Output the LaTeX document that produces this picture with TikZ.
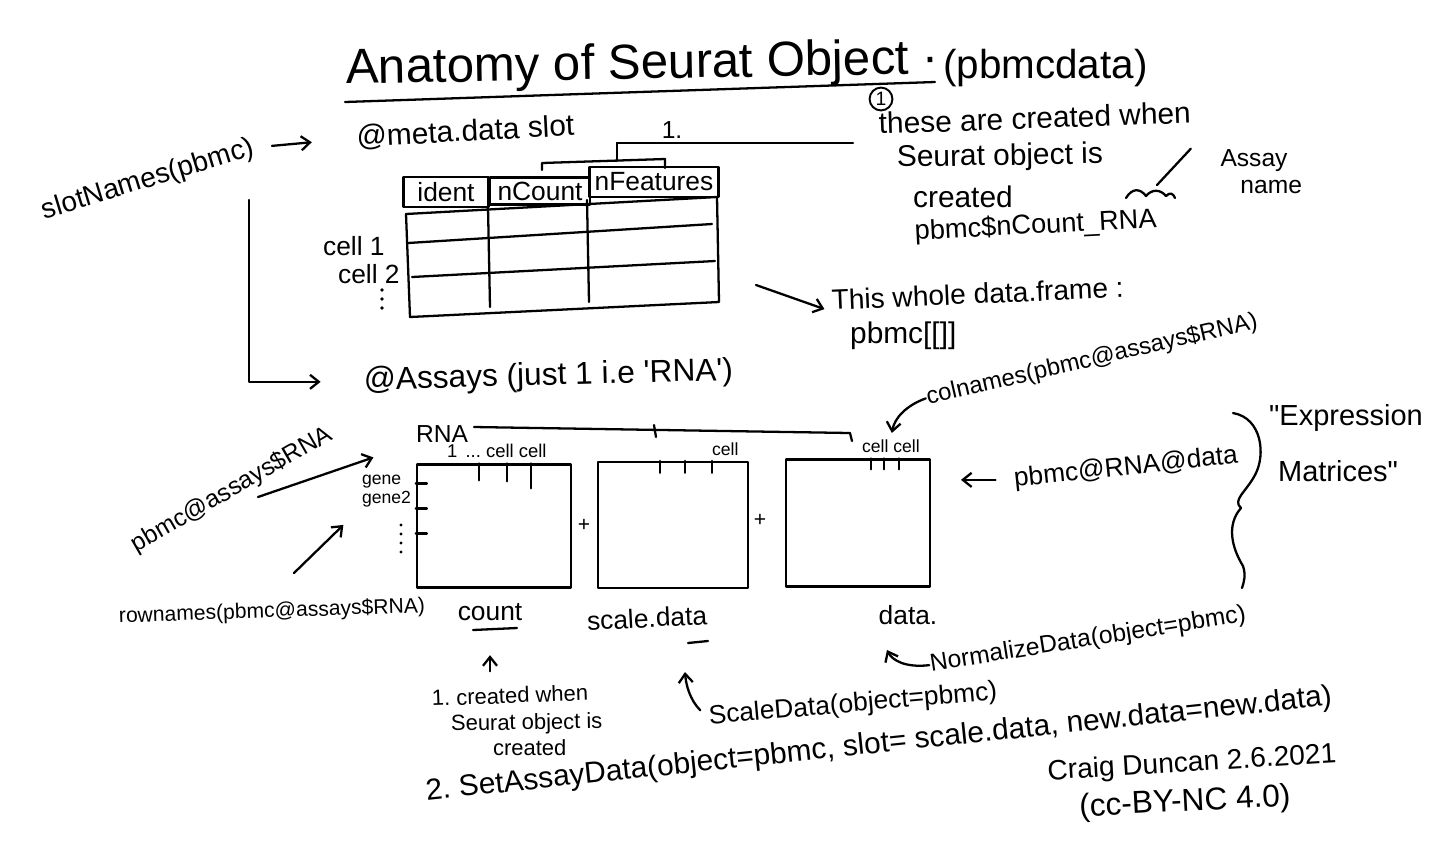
\documentclass[tikz,border=0pt]{standalone}
\usepackage{fontspec}
\setmainfont{Liberation Sans}
\usetikzlibrary{arrows.meta}
\frenchspacing
\newcommand{\handsize}[1]{\fontsize{#1}{#1}\selectfont}
\tikzset{
  txt/.style={inner sep=0pt, font=\handsize{17}},
  txtsm/.style={inner sep=0pt, font=\handsize{14}},
  txtxs/.style={inner sep=0pt, font=\handsize{10}},
  hdrcell/.style={draw, inner sep=0pt, font=\handsize{15}},
  matbox/.style={draw, inner sep=0pt},
  arr/.style={-{Straight Barb[length=5pt,width=8pt]}}
}
\begin{document}
\begin{tikzpicture}[x=0.02cm,y=-0.02cm,line width=1.3pt,line cap=round,line join=round]
                \useasboundingbox (0,0) rectangle (1440,840);
                \fill[white] (0,0) rectangle (1440,840);

                \node[txt, font=\handsize{28}, anchor=base west, rotate=1] (title) at (345,84) {Anatomy of Seurat Object ·};
                \node[txt, font=\handsize{23}, anchor=base west] (pbmcd) at (942,78) {(pbmcdata)};
                \draw (345,102) -- (935,82);

                \node[txt, font=\handsize{16}, rotate=17] (slotn) at (148,180) {slotNames(pbmc)};
                \node[txt, anchor=base west, rotate=3] (meta) at (356,147) {@meta.data slot};
                \node[txt, font=\handsize{18}, anchor=base west, rotate=1.5] (assays) at (363,390) {@Assays (just 1 i.e \textquotesingle RNA\textquotesingle)};
                \coordinate (drop) at (249,200);
                \draw[arr, shorten <=10pt, shorten >=25pt] (slotn.east) -- (meta.west);
                \draw[arr, shorten >=24pt] (drop) |- (assays.west);

                \node[hdrcell, minimum width=1.7cm, minimum height=0.6cm] (ident) at (446,192) {ident};
                \node[hdrcell, minimum width=2cm, minimum height=0.54cm] (ncount) at (540,191) {nCount};
                \node[hdrcell, minimum width=2.58cm, minimum height=0.6cm] (nfeat) at (654,182) {nFeatures};
                \draw (406,214) -- (717,197);
                \draw (406,214) -- (410,317) -- (719,302) -- (717,197);
                \draw (408,243) -- (712,224);
                \draw (412,277) -- (715,261);
                \draw (488,207) -- (490,307);
                \draw (587,200) -- (589,302);
                \node[txt, font=\handsize{15}, anchor=base west] (cell1) at (322,255) {cell 1};
                \node[txt, font=\handsize{15}, anchor=base west] (cell2) at (337,283) {cell 2};
                \foreach \cy in {290,299,308} \fill (382,\cy) circle (1.1pt);

                \draw (542,170) -- (542,163) -- (665,159) -- (665,168);
                \node[txtsm] (one) at (672,130) {1.};
                \coordinate (brtop) at (617,143);
                \draw (617,161) -- (brtop);

                \node[draw, circle, inner sep=0pt, minimum size=13pt, line width=1.1pt, font=\handsize{11}] (circ) at (881,99) {1};
                \node[txt, anchor=base west, rotate=2] (note1) at (878,134) {these are created when};
                \node[txt, anchor=base west, rotate=1] (note2) at (896,167) {Seurat object is};
                \node[txt, anchor=base west] (note3) at (912,207) {created};
                \node[txt, font=\handsize{15.5}, anchor=base west, rotate=3] (note4) at (914,240) {pbmc\$nCount\_RNA};
                \draw[shorten >=14pt] (brtop) -- (brtop -| note1.west);
                \node[txtsm, align=center, font=\fontsize{14}{15.5}\selectfont] (asname) at (1254,172) {Assay\\ \hspace{1.4em}name};
                \draw (1126,198) .. controls (1132,188) and (1140,188) .. (1146,196)
                      .. controls (1152,189) and (1160,189) .. (1166,196)
                      .. controls (1170,192) and (1173,193) .. (1175,198);
                \coordinate (sqtop) at (1157,185);
                \draw (sqtop) -- ([xshift=-8pt]asname.north west);

                \coordinate (tblout) at (756,285);
                \node[txt, font=\handsize{16}, anchor=base west, rotate=2.5] (wholedf) at (831,310) {This whole data.frame :};
                \node[txt, anchor=base west] (bracks) at (849,343) {pbmc[[]]};
                \draw[arr, shorten >=4pt] (tblout) -- (wholedf.south west);

                \node[txtsm, font=\handsize{13.6}, rotate=13] (colnm) at (1092,360) {colnames(pbmc@assays\$RNA)};

                \node[txtsm, anchor=base west] (rna) at (415,442) {RNA};
                \draw (474,427) -- (850,433) -- (852,441);
                \draw (654,425) -- (656,437);

                \node[matbox, minimum width=3.08cm, minimum height=2.46cm] (cnt) at (494,526) {};
                \node[matbox, minimum width=3cm, minimum height=2.52cm] (scl) at (673,525) {};
                \node[matbox, minimum width=2.88cm, minimum height=2.54cm] (dat) at (858,523) {};
                \foreach \tx/\tl in {63/17,91/18,115/25} \draw (cnt.north west) ++(\tx,0) -- ++(0,\tl);
                \foreach \ty in {20,45,70} \draw (cnt.north west) ++(0,\ty) -- ++(11,0);
                \foreach \tx in {63,88,115} \draw (scl.north west) ++(\tx,0) -- ++(0,12);
                \foreach \tx in {86,99,114} \draw (dat.north west) ++(\tx,0) -- ++(0,11);
                \node[txtxs, font=\handsize{10.5}, anchor=base west] (cntcols) at (446,457) {1 \,... cell cell};
                \node[txtxs, anchor=base west] (sclcols) at (711,455) {cell};
                \node[txtxs, anchor=base west] (ccdat) at (861,452) {cell cell};
                \node[txtxs, anchor=base west] (gene1) at (361,484) {gene};
                \node[txtxs, anchor=base west] (gene2) at (361,503) {gene2};
                \foreach \gy in {525,534,543,552} \fill (401,\gy) circle (0.9pt);
                \node[txtxs, font=\handsize{12}] (plus1) at (584,525) {+};
                \node[txtxs, font=\handsize{12}] (plus2) at (760,520) {+};
                \draw[arr, shorten >=3pt] (colnm.west) to[out=200, in=80] (ccdat.north);

                \node[txtsm, rotate=30] (asrna) at (232,490) {pbmc@assays\$RNA};
                \coordinate (asin) at (258,497);
                \draw[arr, shorten >=25pt] (asin) -- (rna.south west);
                \node[txtsm, font=\handsize{12}, rotate=2] (rownm) at (272,612) {rownames(pbmc@assays\$RNA)};
                \coordinate (rnin) at (294,573);
                \draw[arr, shorten >=14pt] (rnin) -- (gene2.south west);

                \node[txtsm, font=\handsize{15}] (count) at (490,612) {count};
                \node[txtsm, font=\handsize{15}, rotate=3] (scldat) at (647,618) {scale.data};
                \node[txtsm, font=\handsize{15}] (datlbl) at (908,615) {data.};
                \draw (473,630) -- (517,628);
                \draw (688,643) -- (708,641);

                \node[txtsm, font=\handsize{15}, rotate=6] (rnadata) at (1126,468) {pbmc@RNA@data};
                \draw[arr, shorten <=10pt, shorten >=17pt] (rnadata.west) -- (rnadata.west -| dat.east);
                \draw (1233,413) .. controls (1262,418) and (1266,455) .. (1255,475)
                      .. controls (1246,492) and (1232,500) .. (1241,508)
                      .. controls (1226,525) and (1232,548) .. (1243,566)
                      .. controls (1246,575) and (1244,582) .. (1242,588);
                \node[txt, font=\handsize{16.5}] (expr) at (1346,418) {\textquotedbl Expression};
                \node[txt, font=\handsize{16.5}] (matr) at (1338,471) {Matrices\textquotedbl};

                \node[txtsm, rotate=9] (normd) at (1088,640) {NormalizeData(object=pbmc)};
                \coordinate (ntip) at (887,650);
                \draw[arr] (normd.west) .. controls (905,668) and (892,660) .. (ntip);

                \node[txt, font=\handsize{15}, rotate=5] (scaled) at (853,705) {ScaleData(object=pbmc)};
                \coordinate (stip) at (685,672);
                \draw[arr, shorten <=6pt] (scaled.west) .. controls (690,700) and (686,685) .. (stip);

                \node[txtsm, font=\handsize{12.5}, anchor=base west, rotate=2] (c1) at (431,706) {1. created when};
                \node[txtsm, font=\handsize{12.5}, anchor=base west, rotate=1] (c2) at (450,731) {Seurat object is};
                \node[txtsm, font=\handsize{12.5}, anchor=base west] (c3) at (492,755) {created};
                \draw[arr, shorten <=8.5pt, shorten >=19pt] (count.south |- c1.north) -- (count.south);

                \node[txt, rotate=6] (setad) at (879,745) {2. SetAssayData(object=pbmc, slot= scale.data, new.data=new.data)};
                \node[txt, font=\handsize{16}, rotate=3.5] (sig) at (1192,764) {Craig Duncan 2.6.2021};
                \node[txt, font=\handsize{18}, rotate=3] (lic) at (1185,803) {(cc-BY-NC 4.0)};
            \end{tikzpicture}
\end{document}
